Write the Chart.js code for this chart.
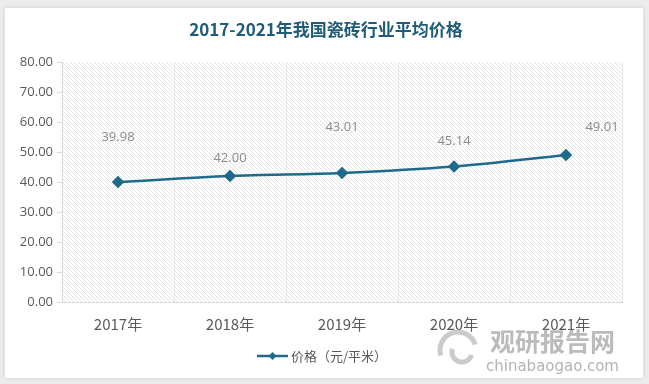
<!DOCTYPE html>
<html><head><meta charset="utf-8">
<script src="https://cdn.jsdelivr.net/npm/chart.js@4/dist/chart.umd.min.js"></script>
<style>html,body{margin:0;padding:0;background:#ececec;}#wrap{width:649px;height:384px;position:relative;}</style>
</head><body><div id="wrap"><canvas id="c" width="649" height="384"></canvas></div>
<script>
const titleText = '2017-2021年我国瓷砖行业平均价格';
const categories = ['2017年','2018年','2019年','2020年','2021年'];
const prices = [39.98, 42.00, 43.01, 45.14, 49.01];
const yTicks = [0,10,20,30,40,50,60,70,80];
const seriesName = '价格（元/平米）';
const labelOffsets = [[0,-45],[0,-18],[0,-46],[0,-25],[36,-28]];
const lineColor = '#1f6a8a';
const fontCJK = '"Noto Sans CJK SC", "Open Sans", sans-serif';

const tile = document.createElement('canvas');
tile.width = 4; tile.height = 4;
const tc = tile.getContext('2d');
tc.fillStyle = '#ffffff'; tc.fillRect(0,0,4,4);
tc.fillStyle = '#e4e4e4';
for (let i=0;i<4;i++) tc.fillRect(i,i,1,1);

const bgPlugin = {
  id:'bg',
  beforeDraw(chart){
    const ctx = chart.ctx;
    ctx.save();
    ctx.fillStyle = '#ececec'; ctx.fillRect(0,0,649,384);
    ctx.shadowColor = 'rgba(0,0,0,0.12)'; ctx.shadowBlur = 4;
    ctx.fillStyle = '#ffffff'; ctx.fillRect(5,8,638,370);
    ctx.shadowBlur = 0;
    const a = chart.chartArea;
    ctx.fillStyle = ctx.createPattern(tile,'repeat');
    ctx.fillRect(a.left, a.top, a.right-a.left, a.bottom-a.top);
    ctx.fillStyle = '#1f5c7a';
    ctx.font = 'bold 17px ' + fontCJK;
    ctx.textAlign='center'; ctx.textBaseline='middle';
    ctx.fillText(titleText, 326, 30);
    ctx.restore();
  },
  afterDatasetsDraw(chart){
    const ctx = chart.ctx;
    const meta = chart.getDatasetMeta(0);
    ctx.save();
    ctx.font = '13px "Open Sans", sans-serif';
    ctx.fillStyle = '#8c8c8c';
    ctx.textAlign='center'; ctx.textBaseline='middle';
    meta.data.forEach((p,i)=>{
      ctx.fillText(prices[i].toFixed(2), p.x + labelOffsets[i][0], p.y + labelOffsets[i][1]);
    });
    // legend
    const ly = 356;
    ctx.strokeStyle = lineColor; ctx.lineWidth = 2.5;
    ctx.beginPath(); ctx.moveTo(257,ly); ctx.lineTo(288,ly); ctx.stroke();
    ctx.fillStyle = lineColor;
    ctx.beginPath(); ctx.moveTo(272.5,ly-4); ctx.lineTo(276.5,ly); ctx.lineTo(272.5,ly+4); ctx.lineTo(268.5,ly); ctx.closePath(); ctx.fill();
    ctx.fillStyle = '#595959';
    ctx.font = '13px ' + fontCJK;
    ctx.textAlign='left';
    ctx.fillText(seriesName, 291, ly);
    // watermark
    ctx.globalAlpha = 0.6;
    ctx.fillStyle = '#8e8e8e';
    ctx.font = 'bold 25px ' + fontCJK;
    ctx.fillText('观研报告网', 490, 341);
    ctx.font = '15px "DejaVu Sans", sans-serif';
    ctx.fillStyle = '#808080';
    ctx.fillText('chinabaogao.com', 486, 367);
    ctx.strokeStyle = '#a8a8a8'; ctx.lineWidth = 5;
    ctx.beginPath(); ctx.arc(458, 350, 18, Math.PI*0.9, Math.PI*1.9); ctx.stroke();
    ctx.beginPath(); ctx.arc(462, 352, 10, Math.PI*0.1, Math.PI*1.1); ctx.stroke();
    ctx.restore();
  }
};

new Chart(document.getElementById('c'), {
  type:'line',
  data:{ labels: categories, datasets:[{
    label: seriesName, data: prices,
    borderColor: lineColor, backgroundColor: lineColor,
    borderWidth: 2.5, tension: 0.3, cubicInterpolationMode:'monotone',
    pointStyle:'rectRot', pointRadius:4.5, pointHoverRadius:4.5
  }]},
  options:{
    responsive:false, animation:false, devicePixelRatio:1,
    layout:{padding:{top:62,right:27,left:0,bottom:0}},
    plugins:{legend:{display:false}, title:{display:false}, tooltip:{enabled:false}},
    scales:{
      x:{
        offset:true,
        grid:{offset:true, color:'#e6e6e6', drawTicks:false},
        border:{color:'#d9d9d9'},
        ticks:{color:'#595959', font:{size:15, family:'"Noto Sans CJK SC", sans-serif'}, padding:13},
        afterFit(s){ s.height = 82; }
      },
      y:{
        min:0, max:80,
        afterBuildTicks(s){ s.ticks = yTicks.map(v=>({value:v})); },
        grid:{drawOnChartArea:false, drawTicks:true, tickLength:5, color:'#d9d9d9'},
        border:{color:'#d9d9d9'},
        ticks:{color:'#595959', font:{size:13, family:'"Open Sans", sans-serif'}, padding:4,
          callback:v=>Number(v).toFixed(2)},
        afterFit(s){ s.width = 62; }
      }
    }
  },
  plugins:[bgPlugin]
});
</script></body></html>
